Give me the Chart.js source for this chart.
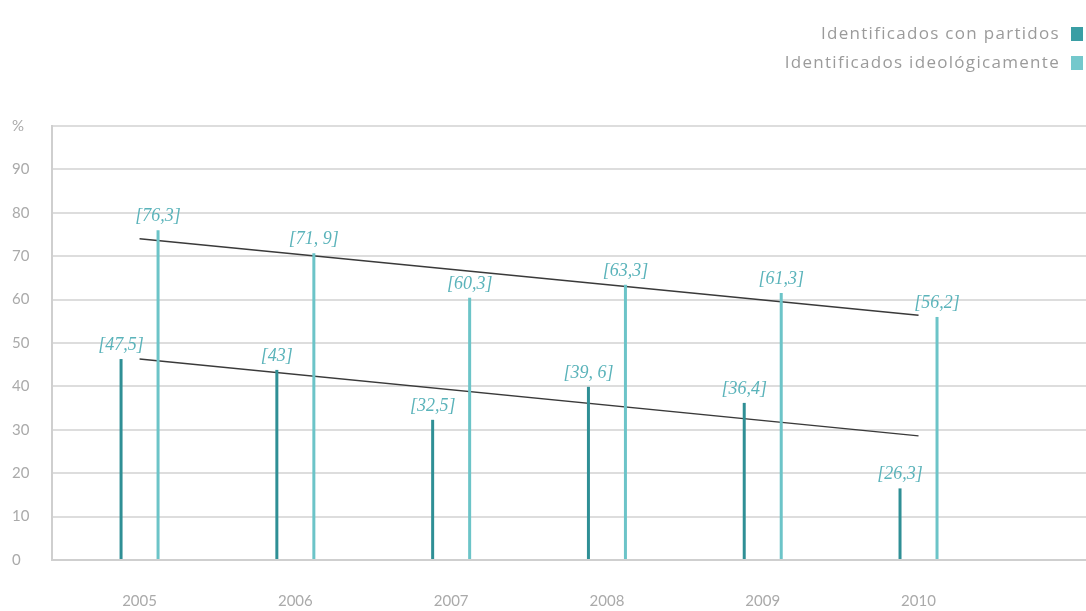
<!DOCTYPE html>
<html lang="es">
<head>
<meta charset="utf-8">
<script src="https://cdn.jsdelivr.net/npm/chart.js@4"></script>
<style>
  body { margin: 0; background: #fff; }
  #wrap { position: relative; width: 1086px; height: 611px; }
  .legend { position: absolute; right: 3px; top: 22px; font-family: 'Open Sans', sans-serif; font-size: 17px; letter-spacing: 1.3px; color: #9b9b9b; text-align: right; }
  .legend div { height: 29px; line-height: 22px; white-space: nowrap; }
  .legend .sw { display: inline-block; width: 12px; height: 14px; margin-left: 11px; vertical-align: -2px; }
</style>
</head>
<body>
<div id="wrap">
  <canvas id="chart"></canvas>
  <div class="legend">
    <div>Identificados con partidos<span class="sw" style="background:#3a9ea4"></span></div>
    <div>Identificados ideológicamente<span class="sw" style="background:#74c8cc"></span></div>
  </div>
</div>
<script>
const years = [2005, 2006, 2007, 2008, 2009, 2010];
const partidos = [46.3, 43.8, 32.3, 39.9, 36.2, 16.5];
const ideologicos = [76.0, 70.7, 60.4, 63.4, 61.5, 56.0];
const partidosLabels = ['[47,5]', '[43]', '[32,5]', '[39, 6]', '[36,4]', '[26,3]'];
const ideologicosLabels = ['[76,3]', '[71, 9]', '[60,3]', '[63,3]', '[61,3]', '[56,2]'];
const trendYears = [2005, 2010];
const trendPartidos = [46.3, 28.6];
const trendIdeologicos = [74.0, 56.4];

const pts = (xs, ys) => xs.map((x, i) => ({ x: x, y: ys[i] }));

const barLabels = {
    id: 'barLabels',
    afterDatasetsDraw(chart) {
        const ctx = chart.ctx;
        const sets = [partidosLabels, ideologicosLabels];
        ctx.save();
        ctx.font = 'italic 18px "Liberation Serif"';
        ctx.fillStyle = '#5ab3ba';
        ctx.textAlign = 'center';
        ctx.textBaseline = 'bottom';
        [0, 1].forEach((di) => {
            chart.getDatasetMeta(di).data.forEach((bar, i) => {
                ctx.fillText(sets[di][i], bar.x, bar.y - 5);
            });
        });
        ctx.restore();
    }
};

new Chart(document.getElementById('chart').getContext('2d'), {
    data: {
        datasets: [
            { type: 'bar', label: 'Identificados con partidos', data: pts(years, partidos), backgroundColor: '#2f8f95', categoryPercentage: 0.475, maxBarThickness: 3 },
            { type: 'bar', label: 'Identificados ideológicamente', data: pts(years, ideologicos), backgroundColor: '#6cc4c8', categoryPercentage: 0.475, maxBarThickness: 3 },
            { type: 'line', data: pts(trendYears, trendIdeologicos), borderColor: '#3a3a3a', borderWidth: 1.5, pointRadius: 0 },
            { type: 'line', data: pts(trendYears, trendPartidos), borderColor: '#3a3a3a', borderWidth: 1.5, pointRadius: 0 }
        ]
    },
    options: {
        responsive: true,
        maintainAspectRatio: false,
        animation: false,
        layout: { padding: { top: 126, left: 12, right: 0, bottom: 0 } },
        plugins: { legend: { display: false }, tooltip: { enabled: false } },
        scales: {
            x: {
                type: 'linear',
                offset: false,
                min: 2004.438,
                max: 2011.075,
                afterBuildTicks: (axis) => { axis.ticks = years.map((v) => ({ value: v })); },
                afterFit: (axis) => { axis.height = 51; },
                grid: { display: false },
                border: { color: '#cfcfcf', width: 2 },
                ticks: { padding: 24, color: '#aaa', font: { family: 'Lato', size: 15 }, callback: (v) => String(v) }
            },
            y: {
                min: 0,
                max: 100,
                afterFit: (axis) => { axis.width = 40; },
                grid: { color: '#dddddd', lineWidth: 2, drawTicks: false },
                border: { color: '#cfcfcf', width: 2 },
                ticks: { stepSize: 10, crossAlign: 'far', padding: 0, color: '#aaa', font: { family: 'Lato', size: 15 }, callback: (v) => v === 100 ? '%' : v }
            }
        }
    },
    plugins: [barLabels]
});
</script>
</body>
</html>
